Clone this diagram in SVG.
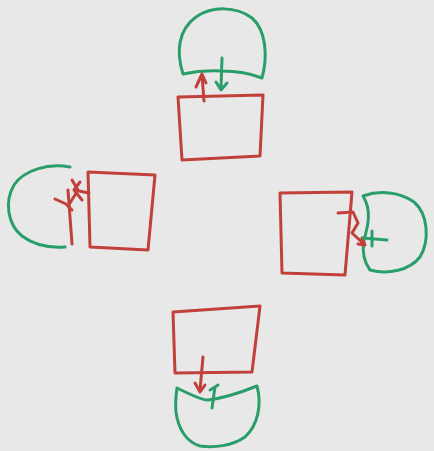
<svg xmlns="http://www.w3.org/2000/svg" width="434" height="451" viewBox="0 0 434 451">
<style>
.r{fill:none;stroke:#c2403a;stroke-width:3;stroke-linecap:round;stroke-linejoin:round}
.g{fill:none;stroke:#2a9e6a;stroke-width:3;stroke-linecap:round;stroke-linejoin:round}
</style>
<rect width="434" height="451" fill="#e8e8e8"/>
<g id="top-cap">
<path class="g" d="M183,74 C176,52 178,30 196,17 C212,6 236,6 252,18 C266,30 268,56 262,78 C252,74 240,71 222,71 C205,70 192,72 183,74 Z"/>
</g>
<g id="top-box">
<path class="r" d="M178,97 L263,95 L260,156 L182,160 Z"/>
</g>
<g id="left-cap">
<path class="g" d="M70,167 C48,163 24,170 14,185 C4,202 8,225 22,236 C34,245 50,248 65,247"/>
</g>
<g id="left-box">
<path class="r" d="M88,172 L155,175 L148,250 L90,247 Z"/>
</g>
<g id="right-box">
<path class="r" d="M280,193 L352,192 L345,275 L282,273 Z"/>
</g>
<g id="right-cap">
<path class="g" d="M363,196 C380,190 400,192 414,202 C428,214 430,240 420,257 C410,270 388,275 370,270 C364,262 362,252 364,240 C368,226 372,210 363,196 Z"/>
</g>
<g id="bottom-box">
<path class="r" d="M173,312 L260,306 L252,372 L175,373 Z"/>
</g>
<g id="bottom-cap">
<path class="g" d="M177,388 C190,394 200,400 208,400 C225,398 242,392 257,386 C262,405 258,425 245,437 C232,446 214,448 200,446 C186,442 178,428 176,412 C175,402 176,395 177,388 Z"/>
</g>
<g id="connectors">
<path class="g" d="M222,58 L221,89 M216,82 L221,90 L227,83"/>
<path class="r" d="M204,101 L202,75 M196,87 L202,74 L206,83"/>
<path class="r" d="M68,190 L72,244"/>
<path class="r" d="M89,193 L74,190 M80,182 L74,190 L82,200 M72,180 L78,190 L70,203 M55,199 L66,204 L72,210"/>
<path class="r" d="M338,213 L353,212 L358,223 L352,233 L365,245 M358,244 L365,245 L362,238"/>
<path class="g" d="M363,238 L387,240 M372,231 L372,246"/>
<path class="r" d="M203,357 L200,390 M195,383 L200,392 L205,385"/>
<path class="g" d="M212,408 L215,387 L210,390 M215,387 L218,385"/>
</g>
</svg>
